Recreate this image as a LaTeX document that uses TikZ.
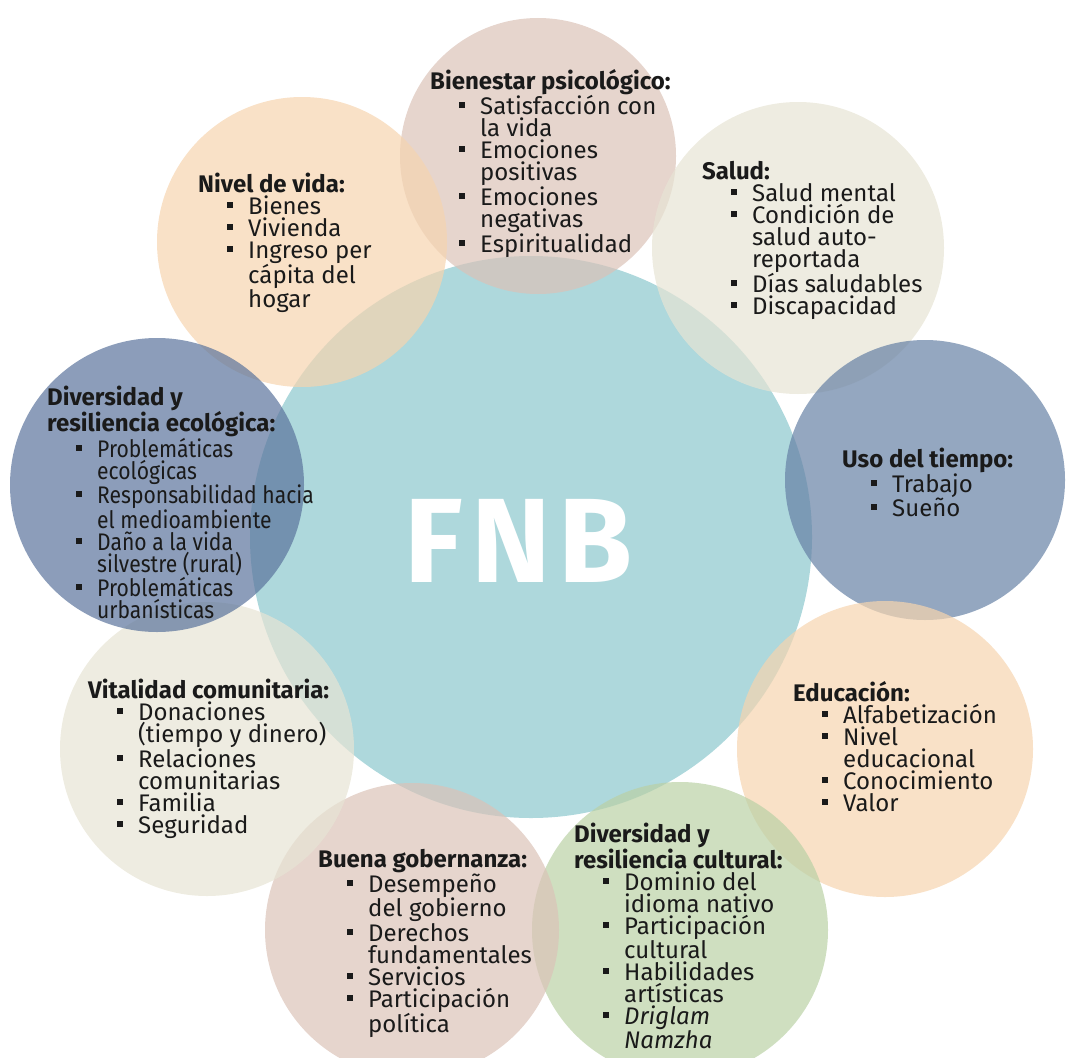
\documentclass[tikz,border=0pt]{standalone}
\usepackage{fontspec}
\setmainfont{Fira Sans}

\definecolor{cTeal}{RGB}{139,199,205}
\definecolor{cSlate}{RGB}{102,129,165}
\definecolor{cSlateDk}{RGB}{91,116,156}
\definecolor{cPeach}{RGB}{246,212,175}
\definecolor{cRose}{RGB}{219,195,184}
\definecolor{cCream}{RGB}{231,228,212}
\definecolor{cSage}{RGB}{186,209,165}
\definecolor{cInk}{RGB}{26,26,26}

\newcommand{\bul}{\hspace*{29pt}\makebox[21pt][l]{\rule[6.5pt]{6pt}{6pt}}}
\newcommand{\cont}{\hspace*{50pt}}
\newcommand{\topstrut}{\rule{0pt}{20pt}}
\newcommand{\narrow}[1]{{\addfontfeatures{FakeStretch=0.88}#1}}

\begin{document}
\begin{tikzpicture}[  x = 1pt,  y = -1pt,
  disc/.style = {circle, inner sep=0pt, fill opacity=0.7},
  block/.style = {anchor=north west, inner sep=0pt, align=left, text=cInk,
                  font=\fontsize{24}{22}\selectfont}]
  \useasboundingbox (0,0) rectangle (1067,1057);

  % Define circles
  \node[disc, fill=cTeal,    minimum size=562pt] (fnb)   at (531,537) {};
  \node[disc, fill=cRose,    minimum size=276pt] (bien)  at (538,156) {};
  \node[disc, fill=cPeach,   minimum size=290pt] (nivel) at (302,242) {};
  \node[disc, fill=cCream,   minimum size=292pt] (salud) at (798,248) {};
  \node[disc, fill=cSlate,   minimum size=280pt] (uso)   at (925,480) {};
  \node[disc, fill=cPeach,   minimum size=296pt] (edu)   at (885,749) {};
  \node[disc, fill=cSage,    minimum size=296pt] (cult)  at (680,930) {};
  \node[disc, fill=cRose,    minimum size=294pt] (buena) at (412,930) {};
  \node[disc, fill=cCream,   minimum size=294pt] (vital) at (207,749) {};
  \node[disc, fill=cSlateDk, minimum size=294pt] (eco)   at (157,485) {};

  % Center label
  \node[inner sep=0pt, text=white, font=\fontsize{120}{120}\selectfont\bfseries]
    (fnbTxt) at (519,541) {F\kern8pt N\kern8pt B};

  % Define lists
  \node[block] (bienTxt) at (430,69) {\topstrut\textbf{Bienestar psicológico:}\\
    \bul Satisfacción con\\
    \cont la vida\\
    \bul Emociones\\
    \cont positivas\\
    \bul Emociones\\
    \cont negativas\\
    \bul Espiritualidad};
  \node[block] (nivelTxt) at (198,172) {\topstrut\textbf{Nivel de vida:}\\
    \bul Bienes\\
    \bul Vivienda\\
    \bul Ingreso per\\
    \cont cápita del\\
    \cont hogar};
  \node[block] (saludTxt) at (702,159) {\topstrut\textbf{Salud:}\\
    \bul Salud mental\\
    \bul Condición de\\
    \cont salud auto-\\
    \cont reportada\\
    \bul Días saludables\\
    \bul Discapacidad};
  \node[block] (usoTxt) at (842,447) {\topstrut\textbf{Uso del tiempo:}\\
    \bul Trabajo\\
    \bul Sueño};
  \node[block] (eduTxt) at (793,681) {\topstrut\textbf{Educación:}\\
    \bul Alfabetización\\
    \bul Nivel\\
    \cont educacional\\
    \bul Conocimiento\\
    \bul Valor};
  \node[block] (cultTxt) at (574,822) {\topstrut\textbf{Diversidad y}\\
    \textbf{resiliencia cultural:}\\
    \bul Dominio del\\
    \cont idioma nativo\\
    \bul Participación\\
    \cont cultural\\
    \bul Habilidades\\
    \cont artísticas\\
    \bul \textit{Driglam}\\
    \cont \textit{Namzha}};
  \node[block] (buenaTxt) at (318,847) {\topstrut\textbf{Buena gobernanza:}\\
    \bul Desempeño\\
    \cont del gobierno\\
    \bul Derechos\\
    \cont fundamentales\\
    \bul Servicios\\
    \bul Participación\\
    \cont política};
  \node[block] (vitalTxt) at (88,678) {\topstrut\textbf{Vitalidad comunitaria:}\\
    \bul Donaciones\\
    \cont (tiempo y dinero)\\
    \bul Relaciones\\
    \cont comunitarias\\
    \bul Familia\\
    \bul Seguridad};
  \node[block] (ecoTxt) at (47,385) {\topstrut\textbf{Diversidad y}\\
    \textbf{resiliencia ecológica:}\\
    \bul \narrow{Problemáticas}\\
    \cont \narrow{ecológicas}\\
    \bul \narrow{Responsabilidad hacia}\\
    \cont \narrow{el medioambiente}\\
    \bul \narrow{Daño a la vida}\\
    \cont \narrow{silvestre (rural)}\\
    \bul \narrow{Problemáticas}\\
    \cont \narrow{urbanísticas}};
\end{tikzpicture}
\end{document}
